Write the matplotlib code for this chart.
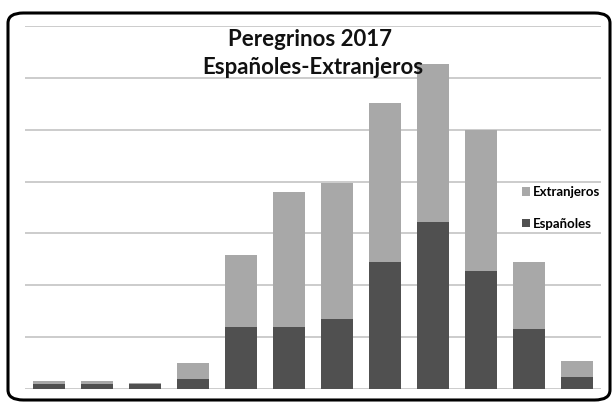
import matplotlib.pyplot as plt
from matplotlib.patches import FancyBboxPatch

# monthly pilgrims 2017 (grid step = 10000)
meses = ["Ene", "Feb", "Mar", "Abr", "May", "Jun", "Jul", "Ago", "Sep", "Oct", "Nov", "Dic"]
espanoles = [1000, 900, 1000, 2000, 11900, 12000, 13500, 24500, 32300, 22700, 11600, 2300]
extranjeros = [500, 600, 200, 3000, 13900, 25900, 26300, 30700, 30400, 27300, 12800, 3100]

dark = "#505050"
light = "#a8a8a8"

fig = plt.figure(figsize=(6.14, 4.04), dpi=100)
ax = fig.add_axes([25 / 614, (404 - 389) / 404, 576 / 614, 363 / 404])

x = range(len(meses))
b1 = ax.bar(x, espanoles, width=0.66, color=dark, zorder=2, label="Españoles")
b2 = ax.bar(x, extranjeros, width=0.66, bottom=espanoles, color=light, zorder=2, label="Extranjeros")

ax.set_xlim(-0.5, 11.5)
ax.set_ylim(0, 70000)
ax.set_yticks(range(0, 70001, 10000))
ax.grid(axis="y", color="#c4c4c4", linewidth=1.2, zorder=0)
ax.set_xticks([])
ax.tick_params(left=False, labelleft=False)
for s in ax.spines.values():
    s.set_visible(False)

# title
fig.text(0.505, 1 - 39 / 404, "Peregrinos 2017", ha="center", va="center",
         fontsize=16, fontweight="bold", family="Lato", color="#111111")
fig.text(0.51, 1 - 68 / 404, "Españoles-Extranjeros", ha="center", va="center",
         fontsize=16, fontweight="bold", family="Lato", color="#111111")

# legend
leg = fig.legend([b2, b1], ["Extranjeros", "Españoles"], loc="center left",
                 bbox_to_anchor=(510 / 614, 1 - 208 / 404), frameon=False,
                 handlelength=0.6, handleheight=0.6, handletextpad=0.2,
                 labelspacing=1.5, prop={"family": "Lato", "weight": "bold", "size": 9.5})

# rounded frame around the whole chart
frame = FancyBboxPatch((8 / 614, 4 / 404), 602 / 614, 387 / 404,
                       boxstyle="round,pad=0,rounding_size=0.025",
                       transform=fig.transFigure, fill=False,
                       edgecolor="black", linewidth=2.2)
fig.patches.append(frame)

fig.savefig("out.png", dpi=100)
